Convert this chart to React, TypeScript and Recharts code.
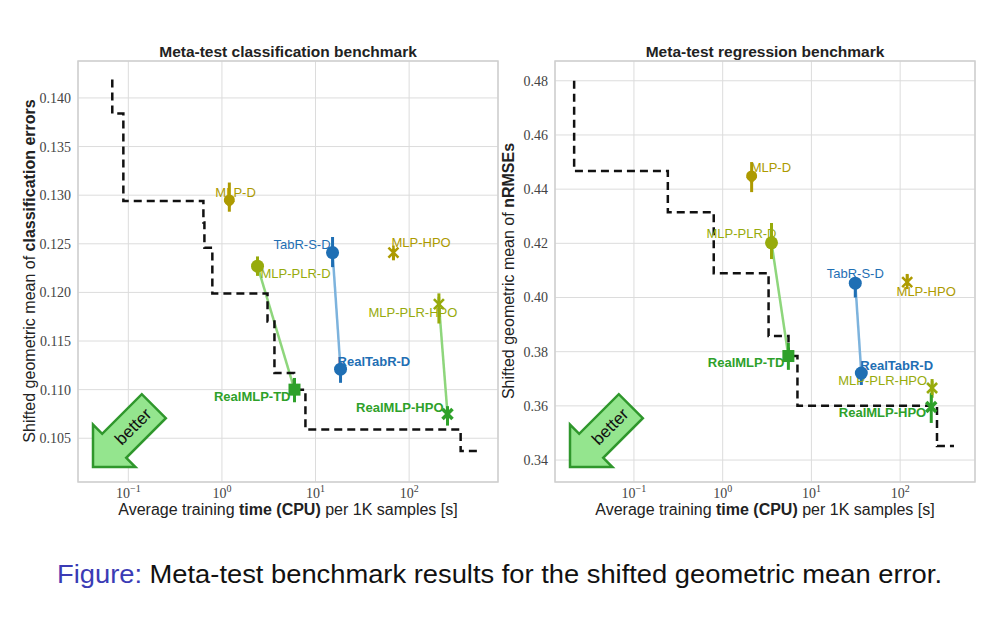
import React from 'react';
import {
  ComposedChart,
  Scatter,
  Line,
  XAxis,
  YAxis,
  CartesianGrid,
  ErrorBar,
  ReferenceArea,
} from 'recharts';

// methods shown in both panels
const methods = ['MLP-D', 'MLP-HPO', 'MLP-PLR-D', 'MLP-PLR-HPO', 'TabR-S-D', 'RealTabR-D', 'RealMLP-TD', 'RealMLP-HPO'];

// classification panel
const clsTime = [1.2, 68, 2.4, 208, 15.2, 18.5, 5.96, 257];
const clsErr = [0.1294, 0.1241, 0.1227, 0.1188, 0.1241, 0.1121, 0.11, 0.1075];
const clsErrLo = [0.0011, 0.0008, 0.001, 0.002, 0.0015, 0.0014, 0.0013, 0.0012];
const clsErrHi = [0.0019, 0.0004, 0.001, 0.0011, 0.0016, 0.0007, 0.0012, 0.0008];
const clsFrontTime = [0.0674, 0.0674, 0.0885, 0.634, 0.65, 0.79, 3.07, 3.64, 5.9, 7.8, 355, 550];
const clsFrontErr = [0.1419, 0.1384, 0.1294, 0.1272, 0.1246, 0.1199, 0.117, 0.1117, 0.11, 0.1059, 0.1037, 0.1037];
const clsTicks = [0.105, 0.11, 0.115, 0.12, 0.125, 0.13, 0.135, 0.14];

// regression panel
const regTime = [2.12, 120, 3.55, 229, 31.2, 36.5, 5.5, 224];
const regErr = [0.4445, 0.4057, 0.4202, 0.3666, 0.4053, 0.3721, 0.3784, 0.3596];
const regErrLo = [0.0056, 0.0015, 0.006, 0.0036, 0.0053, 0.0044, 0.0051, 0.0059];
const regErrHi = [0.0055, 0.003, 0.0073, 0.0033, 0.0022, 0.0014, 0.0048, 0.0051];
const regFrontTime = [0.0212, 0.0212, 0.241, 0.793, 3.29, 5.52, 6.96, 260, 404];
const regFrontErr = [0.48, 0.4467, 0.4315, 0.409, 0.3858, 0.3784, 0.36, 0.3452, 0.3452];
const regTicks = [0.34, 0.36, 0.38, 0.4, 0.42, 0.44, 0.46, 0.48];

const timeTicks = [0.1, 1, 10, 100];

// default -> tuned pairs joined by a line
const pairs = [
  ['MLP-PLR-D', 'RealMLP-TD'],
  ['TabR-S-D', 'RealTabR-D'],
  ['MLP-PLR-HPO', 'RealMLP-HPO'],
];

const GOLD = '#ad9a00';
const LIME = '#97ab0c';
const BLUE = '#1f6fb4';
const GREEN = '#2ea12a';

const methodStyle: Record<string, { color: string; marker: string; bold?: boolean }> = {
  'MLP-D': { color: GOLD, marker: 'drop' },
  'MLP-HPO': { color: GOLD, marker: 'star' },
  'MLP-PLR-D': { color: LIME, marker: 'circle' },
  'MLP-PLR-HPO': { color: LIME, marker: 'star' },
  'TabR-S-D': { color: BLUE, marker: 'circle' },
  'RealTabR-D': { color: BLUE, marker: 'circle', bold: true },
  'RealMLP-TD': { color: GREEN, marker: 'square', bold: true },
  'RealMLP-HPO': { color: GREEN, marker: 'x', bold: true },
};

const pairColor: Record<string, string> = {
  'RealMLP-TD': '#8ed67c',
  'RealTabR-D': '#7db3dd',
  'RealMLP-HPO': '#8ed67c',
};

type LabelPos = Record<string, [number, number, 'start' | 'middle' | 'end']>;

const clsLabelPos: LabelPos = {
  'MLP-D': [-14, -9, 'start'],
  'MLP-HPO': [-2, -10, 'start'],
  'MLP-PLR-D': [3, 7, 'start'],
  'MLP-PLR-HPO': [-26, 8, 'middle'],
  'TabR-S-D': [-2, -8, 'end'],
  'RealTabR-D': [-3, -8, 'start'],
  'RealMLP-TD': [-4, 7, 'end'],
  'RealMLP-HPO': [-4, -6, 'end'],
};

const regLabelPos: LabelPos = {
  'MLP-D': [-1, -9, 'start'],
  'MLP-HPO': [19, 9, 'middle'],
  'MLP-PLR-D': [5, -9, 'end'],
  'MLP-PLR-HPO': [-5, -7, 'end'],
  'TabR-S-D': [0, -10, 'middle'],
  'RealTabR-D': [-1, -8, 'start'],
  'RealMLP-TD': [-4, 6, 'end'],
  'RealMLP-HPO': [-5, 6, 'end'],
};

const SANS = '"Liberation Sans", Arial, sans-serif';
const SERIF = '"Liberation Serif", "DejaVu Serif", serif';

function marker(kind: string, cx: number, cy: number, color: string) {
  switch (kind) {
    case 'circle':
      return <circle cx={cx} cy={cy} r={6.5} fill={color} />;
    case 'drop':
      return (
        <g fill={color}>
          <circle cx={cx} cy={cy - 1} r={5.5} />
          <path d={`M${cx - 5.5},${cy} L${cx + 5.5},${cy} L${cx},${cy + 7} Z`} />
        </g>
      );
    case 'square':
      return <rect x={cx - 6} y={cy - 6} width={12} height={12} fill={color} />;
    case 'x':
      return (
        <g stroke={color} strokeWidth={3.5}>
          <line x1={cx - 5} y1={cy - 5} x2={cx + 5} y2={cy + 5} />
          <line x1={cx - 5} y1={cy + 5} x2={cx + 5} y2={cy - 5} />
        </g>
      );
    default:
      return (
        <g stroke={color} strokeWidth={2.5}>
          <line x1={cx - 5} y1={cy - 5} x2={cx + 5} y2={cy + 5} />
          <line x1={cx - 5} y1={cy + 5} x2={cx + 5} y2={cy - 5} />
          <line x1={cx} y1={cy - 7} x2={cx} y2={cy + 7} />
        </g>
      );
  }
}

function TimeTick(props: any) {
  const { x, y, payload } = props;
  const exp = Math.round(Math.log10(payload.value));
  return (
    <text x={x} y={y + 12} textAnchor="middle" fontFamily={SERIF} fontSize={14} fill="#444">
      <tspan>10</tspan>
      <tspan dy={-6} fontSize={10}>{exp < 0 ? '\u2212' + Math.abs(exp) : String(exp)}</tspan>
    </text>
  );
}

function BetterArrow() {
  return (
    <g transform="translate(93,467) rotate(135)">
      <polygon
        points="0,0 -30,-30 -30,-17 -86,-17 -86,17 -30,17 -30,30"
        fill="#94e58e"
        stroke="#2f972c"
        strokeWidth={2.5}
        strokeLinejoin="miter"
      />
      <text x={-57} y={0} transform="rotate(180,-57,0)" textAnchor="middle" dominantBaseline="central" fontFamily={SANS} fontSize={17} fill="#111">
        better
      </text>
    </g>
  );
}

interface PanelProps {
  title: string;
  yLabel: string;
  yLabelBold: string;
  yLabelX: number;
  time: number[];
  err: number[];
  errLo: number[];
  errHi: number[];
  frontTime: number[];
  frontErr: number[];
  xDomain: [number, number];
  yDomain: [number, number];
  yTicks: number[];
  digits: number;
  labelPos: LabelPos;
}

function Panel(p: PanelProps) {
  const W = 500;
  const H = 540;
  const front = p.frontTime.map((t, i) => ({ x: t, y: p.frontErr[i] }));
  const idx = (m: string) => methods.indexOf(m);

  return (
    <div style={{ position: 'relative', width: W, height: H }}>
      <ComposedChart width={W} height={H} margin={{ top: 61, right: 2, bottom: 28, left: 33 }}>
        <CartesianGrid stroke="#dcdcdc" strokeWidth={1} />
        <XAxis
          dataKey="x"
          type="number"
          scale="log"
          domain={p.xDomain}
          ticks={timeTicks}
          allowDataOverflow
          axisLine={false}
          tickLine={false}
          tickSize={0}
          tickMargin={4}
          height={30}
          tick={<TimeTick />}
        />
        <YAxis
          dataKey="y"
          type="number"
          domain={p.yDomain}
          ticks={p.yTicks}
          allowDataOverflow
          axisLine={false}
          tickLine={false}
          tickSize={0}
          tickMargin={7}
          width={45}
          tickFormatter={(v: number) => v.toFixed(p.digits)}
          tick={{ fontFamily: SERIF, fontSize: 14, fill: '#444' }}
        />
        <ReferenceArea
          x1={p.xDomain[0]}
          x2={p.xDomain[1]}
          y1={p.yDomain[0]}
          y2={p.yDomain[1]}
          fill="none"
          fillOpacity={0}
          stroke="#cfcfcf"
          strokeWidth={1.5}
          ifOverflow="visible"
        />
        {pairs.map(([a, b]) => (
          <Line
            key={a + b}
            data={[
              { x: p.time[idx(a)], y: p.err[idx(a)] },
              { x: p.time[idx(b)], y: p.err[idx(b)] },
            ]}
            dataKey="y"
            type="linear"
            stroke={pairColor[b]}
            strokeWidth={2.5}
            dot={false}
            activeDot={false}
            isAnimationActive={false}
          />
        ))}
        <Line
          data={front}
          dataKey="y"
          type="stepAfter"
          stroke="#111"
          strokeWidth={2.5}
          strokeDasharray="8 5"
          dot={false}
          activeDot={false}
          isAnimationActive={false}
        />
        {methods.map((m, i) => {
          const st = methodStyle[m];
          const [dx, dy, anchor] = p.labelPos[m];
          return (
            <Scatter
              key={m}
              data={[{ x: p.time[i], y: p.err[i], e: [p.errLo[i], p.errHi[i]], name: m }]}
              isAnimationActive={false}
              shape={(s: any) => (
                <g>
                  {marker(st.marker, s.cx, s.cy, st.color)}
                  <text
                    x={s.cx + dx}
                    y={s.cy + dy}
                    textAnchor={anchor}
                    dominantBaseline="central"
                    fontFamily={SANS}
                    fontSize={13}
                    fontWeight={st.bold ? 'bold' : 'normal'}
                    fill={st.color}
                  >
                    {m}
                  </text>
                </g>
              )}
            >
              <ErrorBar dataKey="e" direction="y" width={0} stroke={st.color} strokeWidth={3} isAnimationActive={false} />
            </Scatter>
          );
        })}
      </ComposedChart>
      <svg width={W} height={H} style={{ position: 'absolute', left: 0, top: 0, pointerEvents: 'none' }}>
        <text x={288} y={57} textAnchor="middle" fontFamily={SANS} fontSize={15.5} fontWeight="bold" fill="#222">
          {p.title}
        </text>
        <text x={288} y={515} textAnchor="middle" fontFamily={SANS} fontSize={16} fill="#222">
          Average training <tspan fontWeight="bold">time (CPU)</tspan> per 1K samples [s]
        </text>
        <text
          x={p.yLabelX}
          y={271}
          transform={`rotate(-90,${p.yLabelX},271)`}
          textAnchor="middle"
          fontFamily={SANS}
          fontSize={16}
          fill="#222"
        >
          {p.yLabel}
          <tspan fontWeight="bold">{p.yLabelBold}</tspan>
        </text>
        <BetterArrow />
      </svg>
    </div>
  );
}

export default function App() {
  return (
    <div style={{ position: 'absolute', left: 0, top: 0, width: 1000, height: 635, background: '#fff', overflow: 'hidden' }}>
      <div style={{ position: 'absolute', left: 0, top: 0 }}>
        <Panel
          title="Meta-test classification benchmark"
          yLabel="Shifted geometric mean of "
          yLabelBold="classification errors"
          yLabelX={35}
          time={clsTime}
          err={clsErr}
          errLo={clsErrLo}
          errHi={clsErrHi}
          frontTime={clsFrontTime}
          frontErr={clsFrontErr}
          xDomain={[0.029, 890]}
          yDomain={[0.1005, 0.1438]}
          yTicks={clsTicks}
          digits={3}
          labelPos={clsLabelPos}
        />
      </div>
      <div style={{ position: 'absolute', left: 477, top: 0 }}>
        <Panel
          title="Meta-test regression benchmark"
          yLabel="Shifted geometric mean of "
          yLabelBold="nRMSEs"
          yLabelX={37}
          time={regTime}
          err={regErr}
          errLo={regErrLo}
          errHi={regErrHi}
          frontTime={regFrontTime}
          frontErr={regFrontErr}
          xDomain={[0.0129, 697]}
          yDomain={[0.3319, 0.4873]}
          yTicks={regTicks}
          digits={2}
          labelPos={regLabelPos}
        />
      </div>
      <svg width={1000} height={95} style={{ position: 'absolute', left: 0, top: 540 }}>
        <text x={57} y={43} fontFamily={SANS} fontSize={26} fill="#111" textLength={885} lengthAdjust="spacingAndGlyphs">
          <tspan fill="#3b3bb5">Figure:</tspan> Meta-test benchmark results for the shifted geometric mean error.
        </text>
      </svg>
    </div>
  );
}
